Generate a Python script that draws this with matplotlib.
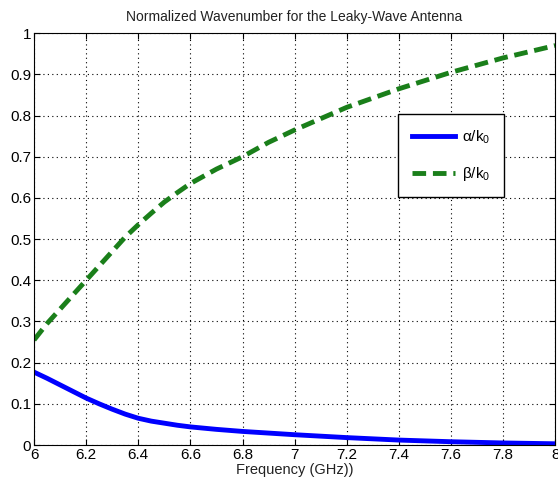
import numpy as np
from matplotlib import pyplot as plt

plt.rcParams['font.family'] = ['Liberation Sans', 'DejaVu Sans']
plt.rcParams['mathtext.fontset'] = 'custom'
plt.rcParams['mathtext.rm'] = 'Liberation Sans'

freq = [6.0, 6.05, 6.1, 6.15, 6.2, 6.25, 6.3, 6.35, 6.4, 6.45, 6.5, 6.55, 6.6, 6.7, 6.8, 6.9, 7.0, 7.2, 7.4, 7.6, 7.8, 8.0]
alpha = [0.177, 0.162, 0.146, 0.130, 0.114, 0.100, 0.087, 0.075, 0.065, 0.058, 0.053, 0.048, 0.044, 0.038, 0.033, 0.029, 0.025, 0.018, 0.012, 0.008, 0.005, 0.003]
beta = [0.255, 0.295, 0.33, 0.365, 0.40, 0.435, 0.47, 0.505, 0.535, 0.563, 0.59, 0.613, 0.635, 0.67, 0.70, 0.735, 0.765, 0.82, 0.865, 0.905, 0.94, 0.97]

fig = plt.figure(figsize=(5.58, 4.92), dpi=100)
ax = fig.add_axes([0.061, 0.0955, 0.934, 0.837])
ax.plot(freq, alpha, color='#0000ff', lw=3.5, label='α/k$_\\mathrm{0}$')
ax.plot(freq, beta, color='#1a7f1a', lw=3.5, ls=(0, (2.8, 1.4)), label='β/k$_\\mathrm{0}$')

ax.set_xlim(6, 8)
ax.set_ylim(0, 1)
ax.set_xticks(np.arange(6, 8.01, 0.2))
ax.set_xticklabels(['6', '6.2', '6.4', '6.6', '6.8', '7', '7.2', '7.4', '7.6', '7.8', '8'])
ax.set_yticks(np.arange(0, 1.01, 0.1))
ax.set_yticklabels(['0', '0.1', '0.2', '0.3', '0.4', '0.5', '0.6', '0.7', '0.8', '0.9', '1'])
ax.tick_params(direction='in', top=True, right=True, labelsize=11, length=4, pad=2)
ax.grid(True, color='black', ls=(0, (1, 3)), lw=0.8)
ax.set_xlabel('Frequency (GHz))', fontsize=10.5, color='#222222', labelpad=1)
ax.set_title('Normalized Wavenumber for the Leaky-Wave Antenna', fontsize=10, color='#222222', pad=9)
leg = ax.legend(loc='upper left', bbox_to_anchor=(0.684, 0.822), fontsize=11,
                fancybox=False, edgecolor='black', framealpha=1, handlelength=2.8,
                borderpad=0.9, labelspacing=1.3, handletextpad=0.5)
leg.get_frame().set_linewidth(1.0)

fig.savefig('out.png')
